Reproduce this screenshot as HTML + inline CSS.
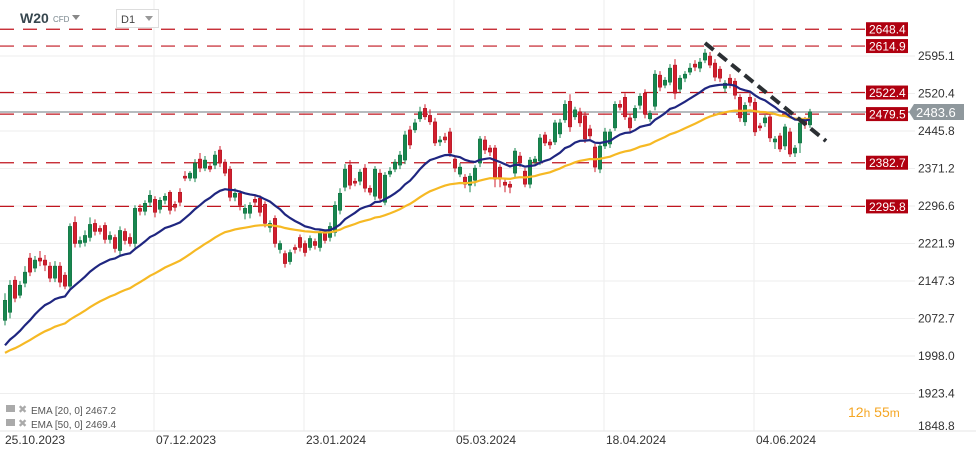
<!DOCTYPE html>
<html><head><meta charset="utf-8"><style>
body{margin:0;background:#fff;font-family:"Liberation Sans",sans-serif;}
svg{display:block}
</style></head><body>
<svg id="chart" width="976" height="457" xmlns="http://www.w3.org/2000/svg" font-family="Liberation Sans, sans-serif">
<g id="grid"></g>
<g id="levels"></g>
<g id="candles"></g>
<g id="emas"></g>
<line x1="705" y1="43" x2="826" y2="141" stroke="#2b2f33" stroke-width="4" stroke-dasharray="11,6"/>
<g id="yaxis"></g>
<g id="xaxis"></g>
<g>
<text x="20" y="23" font-size="14" font-weight="bold" fill="#37474f">W20</text>
<text x="53" y="22" font-size="8" fill="#78858c">CFD</text>
<path d="M72 15 L80 15 L76 20 Z" fill="#888"/>
<rect x="116.5" y="9.5" width="42" height="18" fill="#fff" stroke="#ddd"/>
<text x="121" y="23" font-size="11" fill="#444">D1</text>
<path d="M145 16 L153 16 L149 21 Z" fill="#999"/>
</g>
<g font-size="10" fill="#555">
<rect x="6" y="405" width="9" height="7" fill="#aaa"/>
<text x="18" y="413" font-size="11" fill="#aaa">✖</text>
<text x="31" y="414">EMA [20, 0] 2467.2</text>
<rect x="6" y="419" width="9" height="7" fill="#aaa"/>
<text x="18" y="427" font-size="11" fill="#aaa">✖</text>
<text x="31" y="428">EMA [50, 0] 2469.4</text>
</g>
<text x="848" y="417" font-size="14" fill="#f5a623">12<tspan font-size="12">h</tspan> 55<tspan font-size="12">m</tspan></text>
</svg>
<script>
const opens=[2069,2085,2149,2119,2143,2193,2173,2193,2189,2177,2153,2177,2159,2137,2264,2222,2224,2234,2262,2252,2258,2230,2234,2208,2246,2234,2222,2292,2286,2304,2310,2290,2308,2324,2300,2324,2356,2352,2352,2390,2372,
2376,2378,2408,2384,2370,2314,2322,2282,2282,2310,2312,2300,2254,2272,2210,2202,2186,2214,2234,2222,2214,2226,2214,2244,2234,2244,2288,2334,2378,2346,2346,2372,2332,2316,2362,2304,2360,2370,2378,2388,2448,2448,2470,2491,2477,2464,2424,2434,2444,2390,2360,2354,2338,2348,2382,2428,2412,2412,2374,2344,2340,2362,2396,2366,2340,2384,2386,2438,2424,2424,2440,2468,2505,2474,2484,2476,2450,2414,2370,2416,2420,2452,2499,2513,2472,2472,2497,2521,2470,2495,2557,2537,2543,2577,2529,2551,2563,2579,2571,2587,2595,2581,2569,2531,2551,2545,2513,2464,2513,2503,2456,2462,2474,2424,2436,2416,2444,2402,2422,2468,2458];
const closes=[2109,2139,2113,2139,2165,2165,2189,2187,2179,2153,2177,2145,2137,2256,2222,2228,2238,2260,2246,2246,2230,2238,2212,2248,2228,2222,2292,2286,2302,2318,2284,2308,2316,2288,2294,2304,2352,2362,2382,2372,2388,
2370,2398,2382,2362,2314,2322,2298,2292,2298,2304,2284,2262,2262,2222,2222,2182,2204,2210,2214,2204,2232,2218,2244,2228,2256,2298,2322,2370,2338,2342,2364,2332,2324,2370,2312,2358,2366,2384,2398,2438,2418,2462,2484,2474,2464,2422,2428,2428,2402,2372,2374,2340,2356,2372,2430,2408,2404,2350,2350,2338,2334,2406,2382,2340,2388,2390,2432,2422,2418,2462,2462,2499,2454,2488,2462,2430,2436,2374,2416,2444,2444,2499,2493,2474,2452,2491,2515,2479,2481,2559,2533,2547,2571,2521,2551,2559,2571,2573,2583,2601,2577,2553,2551,2541,2537,2517,2472,2497,2503,2444,2452,2472,2432,2430,2410,2454,2400,2412,2462,2458,2484];
const wickUp=[14,10,8,8,12,10,8,14,10,8,10,8,6,6,12,8,10,14,8,6,6,8,6,8,6,8,6,8,6,10,6,6,6,4,6,8,10,4,8,12,8,
6,8,8,6,6,10,6,8,6,6,6,6,6,6,6,6,6,6,6,6,6,6,6,6,8,8,10,10,10,6,6,8,6,6,8,6,8,6,8,8,8,8,10,8,12,8,8,8,8,6,8,6,6,6,6,8,6,6,6,6,6,6,8,6,6,6,8,6,6,6,8,8,14,6,8,8,8,6,6,8,6,6,8,8,8,6,6,8,6,8,8,6,8,12,6,6,10,8,8,8,8,8,6,6,8,6,6,6,8,8,6,6,6,6,6,6,8,6,12,6,6,8,8];
const wickDn=[10,12,8,6,8,8,8,10,12,8,8,10,6,6,8,8,8,8,8,6,8,8,8,12,8,6,8,8,8,8,10,8,8,8,8,8,6,6,8,8,6,
6,8,8,6,8,8,10,12,10,8,8,8,10,8,8,8,6,8,8,8,6,8,8,6,8,8,8,8,8,6,8,8,6,8,8,6,6,6,8,8,8,6,6,6,6,6,8,6,8,8,6,8,14,12,8,8,8,16,16,14,12,8,8,6,8,6,8,6,8,6,8,6,10,6,8,8,6,10,8,6,8,6,6,6,8,6,8,8,6,8,8,6,6,12,6,8,6,8,8,6,6,8,8,8,6,8,8,8,8,8,6,8,8,14,6,8,6,8,20,8,6,8,8];
const levels=[2648.4,2614.9,2522.4,2479.5,2382.7,2295.8];
const lastPrice=2483.6;
const yTicks=["2595.1","2520.4","2445.8","2371.2","2296.6","2221.9","2147.3","2072.7","1998.0","1923.4","1848.8"];
const xLabels=["25.10.2023","07.12.2023","23.01.2024","05.03.2024","18.04.2024","04.06.2024"];
const xLabelIdx=[0,30,60,90,120,150];
const emaSeed20=2010, emaSeed50=2000;

const NS="http://www.w3.org/2000/svg";
function y(p){return 56+(2595.1-p)*0.5025;}
function x(i){return 5+i*5;}
function mk(tag,attrs,parent){const e=document.createElementNS(NS,tag);for(const k in attrs)e.setAttribute(k,attrs[k]);parent.appendChild(e);return e;}
const grid=document.getElementById('grid'),lv=document.getElementById('levels'),cg=document.getElementById('candles'),eg=document.getElementById('emas'),ya=document.getElementById('yaxis'),xa=document.getElementById('xaxis');

yTicks.forEach(t=>{const yy=Math.min(y(parseFloat(t)),431);
 const l=mk('line',{x1:0,x2:915,y1:yy,y2:yy,stroke:'#eeeeee'},grid);
 
 
 const tx=mk('text',{x:918,y:Math.min(yy+4,430),'font-size':12,fill:'#333'},ya);
 
 
 tx.textContent=t;});
xLabelIdx.forEach((idx,k)=>{const xx=x(idx)-1;
 if(k>0){const l=mk('line',{x1:xx,x2:xx,y1:0,y2:431,stroke:'#eeeeee'},grid);
 
 }
 const tx=mk('text',{x:k==0?5:xx+2,y:444,'font-size':12,fill:'#333'},xa);
 
 
 tx.textContent=xLabels[k];});
const bl=mk('line',{x1:0,x2:976,y1:431,y2:431,stroke:'#e6e6e6'},xa);



const lp=mk('line',{x1:0,x2:910,y1:y(lastPrice),y2:y(lastPrice),stroke:'#8a9499','stroke-width':1.2},lv);


const lpt=y(lastPrice);
const lpb=mk('path',{d:`M909 ${lpt} L914 ${lpt-8} L964 ${lpt-8} L964 ${lpt+8} L914 ${lpt+8} Z`,fill:'#8f989d'},lv);


const lptx=mk('text',{x:916,y:lpt+5,'font-size':13,fill:'#fff'},lv);


lptx.textContent=lastPrice.toFixed(1);

levels.forEach(v=>{const yy=y(v);
 const l=mk('line',{x1:0,x2:866,y1:yy,y2:yy,stroke:'#c0151f','stroke-width':1.2,'stroke-dasharray':'14,9'},lv);
 
 
 const r=mk('rect',{x:866,y:yy-7,width:42,height:14,fill:'#b00010'},lv);
 
 
 const t=mk('text',{x:869,y:yy+4.5,'font-size':12,fill:'#fff'},lv);
 
 
 t.textContent=v.toFixed(1);});

closes.forEach((c,i)=>{const o=opens[i];const up=c>=o;const col=up?'#17874f':'#d21f2e';
 const hi=Math.max(o,c)+wickUp[i],lo=Math.min(o,c)-wickDn[i];
 const w=mk('line',{x1:x(i),x2:x(i),y1:y(hi),y2:y(lo),stroke:col,'stroke-width':1},cg);
 
 
 const top=y(Math.max(o,c)),h=Math.max(1.5,y(Math.min(o,c))-top);
 const b=mk('rect',{x:x(i)-1.7,y:top,width:3.4,height:h,fill:col,stroke:up?'#0d6b3c':'#a8101d','stroke-width':0.5},cg);
 
 });

function ema(n,seed){let e=seed;const a=2/(n+1);return closes.map(c=>(e=e+a*(c-e)));}
[[50,emaSeed50,'#f6b924','ema-50-line'],[20,emaSeed20,'#1f2680','ema-20-line']].forEach(([n,s,col,name])=>{
 const pts=ema(n,s).map((v,i)=>x(i)+','+y(v).toFixed(1)).join(' ');
 const pl=mk('polyline',{points:pts,fill:'none',stroke:col,'stroke-width':2.2},eg);
 
 });
</script>
</body></html>
